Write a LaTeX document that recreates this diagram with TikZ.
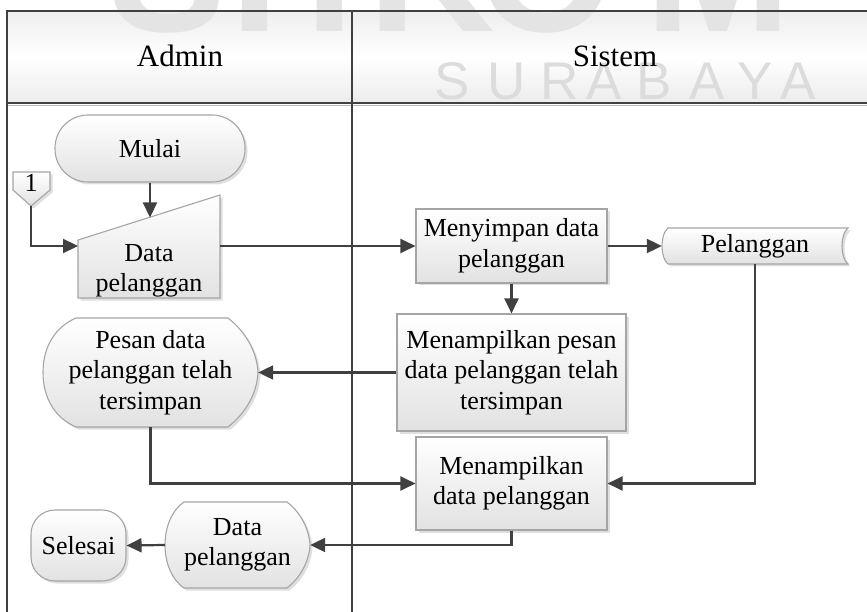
\documentclass[tikz,border=0pt]{standalone}
\usepackage{fontspec}
\setmainfont{Liberation Serif}
\newfontfamily\markfont{Liberation Sans}
\usetikzlibrary{arrows.meta,shadows}

\definecolor{ink}{RGB}{64,64,64}
\definecolor{edgegray}{RGB}{165,165,165}
\definecolor{shadebot}{RGB}{226,226,226}
\definecolor{markgray}{RGB}{220,220,220}
\definecolor{bigmark}{RGB}{228,228,228}
\definecolor{headtop}{RGB}{238,238,238}
\definecolor{headbot}{RGB}{236,236,236}

\newcommand\flowfont{\fontsize{26}{30.5}\selectfont}
\newcommand\headfont{\fontsize{31}{36}\selectfont}

\tikzset{
  flow/.style={draw=edgegray, line width=1.1pt, top color=white, bottom color=shadebot,
    drop shadow={shadow xshift=2.5pt, shadow yshift=-2.5pt, opacity=.28, fill=black!45}},
  proc/.style={flow, rectangle, align=center, font=\flowfont, inner sep=0pt},
  txt/.style={align=center, font=\flowfont, inner sep=0pt},
  conn/.style={draw=ink, line width=2.2pt, -{Triangle[length=15pt,width=14pt]}},
  lane/.style={draw=ink, line width=2.4pt},
  wmsmall/.style={anchor=base, text=markgray, font=\markfont\fontsize{53}{53}\selectfont},
  wmbig/.style={anchor=base, text=bigmark, font=\markfont\bfseries\fontsize{175}{175}\selectfont},
}

\begin{document}
\begin{tikzpicture}[x=1pt,y=-1pt]
\useasboundingbox (0,0) rectangle (867,612);
\clip (0,0) rectangle (867,612);

% header band of the swimlanes
\shade[top color=headtop, bottom color=headbot, middle color=white] (7,11) rectangle (880,103);

% background lettering
\foreach \ch/\xx in {S/168, T/255, I/330, K/432, O/547, M/718}
  \node[wmbig] at (\xx,32) {\ch};
\foreach \ch/\xx in {S/452, U/507, R/560, A/604, B/654, A/707, Y/755, A/798}
  \node[wmsmall] at (\xx,100) {\ch};

% swimlane frame
\draw[gray!55, line width=1.4pt] (7,105.8) -- (880,105.8);
\draw[lane] (7,11) -- (880,11);
\draw[lane] (7,103) -- (880,103);
\draw[lane] (7,10) -- (7,620);
\draw[lane] (352,10) -- (352,620);

\node[font=\headfont, anchor=base] (hadmin) at (180,67) {Admin};
\node[font=\headfont, anchor=base] (hsistem) at (615,67) {Sistem};

% start terminal
\node[proc, rounded corners=33pt, minimum width=190pt, minimum height=67pt] (mulai) at (150,148.5) {Mulai};

% off-page connector
\path[flow] (13,172) -- (50,172) -- (50,190) -- (31,206) -- (13,190) -- cycle;
\node[txt] (onp) at (31,183) {1};
\coordinate (onptip) at (31,206);

% manual input
\path[flow] (78,240) -- (220,195) -- (220,298) -- (78,298) -- cycle;
\node[txt] (inp) at (149,271) {Data\\pelanggan};
\coordinate (inpw) at (78,246);
\coordinate (inpe) at (220,246);
\coordinate (inpt) at (150,217.5);

% processes
\node[proc, minimum width=191pt, minimum height=74pt] (simpan) at (511.5,246) {Menyimpan data\\pelanggan};
\node[proc, minimum width=229pt, minimum height=117pt] (tampil1) at (511.5,372.5) {Menampilkan pesan\\data pelanggan telah\\tersimpan};
\node[proc, minimum width=191pt, minimum height=93pt] (tampil2) at (511.5,483.5) {Menampilkan\\data pelanggan};

% stored data
\path[flow] (668,228) -- (848,228) .. controls (840,234) and (840,258) .. (848,264)
  -- (668,264) .. controls (660,258) and (660,234) .. (668,228) -- cycle;
\node[txt, minimum width=186pt, minimum height=36pt] (db) at (755,246) {Pelanggan};

% displays
\path[flow] (76,318) -- (228,318) .. controls (246,332) and (257,352) .. (258,372.5)
  .. controls (257,393) and (246,413) .. (228,427) -- (76,427)
  .. controls (55,418) and (43,398) .. (43,372.5) .. controls (43,347) and (55,327) .. (76,318) -- cycle;
\node[txt, minimum width=215pt, minimum height=109pt] (pesan) at (150.5,372.5) {Pesan data\\pelanggan telah\\tersimpan};

\path[flow] (184,502) -- (287,502) .. controls (300,512) and (309,528) .. (310,545)
  .. controls (309,562) and (300,578) .. (287,588) -- (184,588)
  .. controls (172,580) and (165,563) .. (165,545) .. controls (165,527) and (172,510) .. (184,502) -- cycle;
\node[txt, minimum width=145pt, minimum height=86pt] (dpl) at (237.5,545) {Data\\pelanggan};

% end terminal
\node[proc, rounded corners=24pt, minimum width=95pt, minimum height=71pt] (selesai) at (78.5,545.5) {Selesai};

% flow connectors
\draw[conn] (mulai.south) -- (inpt);
\draw[conn] (onptip) |- (inpw);
\draw[conn] (inpe) -- (simpan.west);
\draw[conn] (simpan.east) -- (db.west);
\draw[conn] (simpan.south) -- (tampil1.north);
\draw[conn] (tampil1.west) -- (pesan.east);
\draw[conn] (pesan.south) |- (tampil2.west);
\draw[conn] (db.south) |- (tampil2.east);
\draw[conn] (tampil2.south) |- (dpl.east);
\draw[conn] (dpl.west) -- (selesai.east);
\end{tikzpicture}
\end{document}
